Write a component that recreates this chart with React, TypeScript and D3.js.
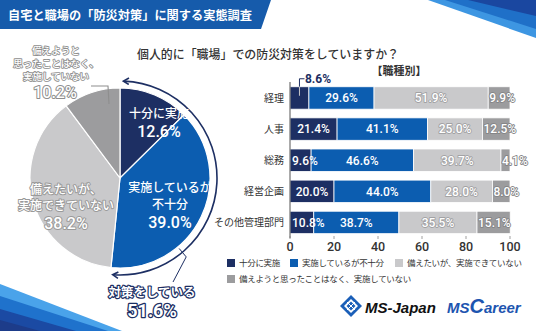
import React from 'react';
import * as d3 from 'd3';

const W = 536;
const H = 331;

const titleText = '自宅と職場の「防災対策」に関する実態調査';
const questionText = '個人的に「職場」での防災対策をしていますか？';
const subTitle = '【職種別】';

const legendLabels = ['十分に実施', '実施しているが不十分', '備えたいが、実施できていない', '備えようと思ったことはなく、実施していない'];
const pieValues = [12.6, 39.0, 38.2, 10.2];
const pieLabelLines = [
  ['十分に実施'],
  ['実施しているが', '不十分'],
  ['備えたいが、', '実施できていない'],
  ['備えようと', '思ったことはなく、', '実施していない'],
];
const totalDoing = 51.6;
const totalDoingLabel = '対策をしている';

const categories = ['経理', '人事', '総務', '経営企画', 'その他管理部門'];
const s1 = [8.6, 21.4, 9.6, 20.0, 10.8];
const s2 = [29.6, 41.1, 46.6, 44.0, 38.7];
const s3 = [51.9, 25.0, 39.7, 28.0, 35.5];
const s4 = [9.9, 12.5, 4.1, 8.0, 15.1];
const xTicks = [0, 20, 40, 60, 80, 100];

const COLORS = ['#1d2f63', '#0c5db0', '#c9c9cb', '#9c9c9e'];
const NAVY = '#1d2f63';
const JP = '"Noto Sans CJK JP", "Noto Sans", sans-serif';
const NUM = 'Roboto, "Noto Sans", sans-serif';

export default function App() {
  // ---------- pie ----------
  const cx = 120, cy = 178, R = 90;
  const pie = d3.pie<number>().sort(null).value((d) => d)(pieValues);
  const arc = d3.arc<d3.PieArcDatum<number>>().innerRadius(0).outerRadius(R);

  const arrowR = 97;
  const a0 = -Math.PI / 2 + 0.04;
  const a1 = -Math.PI / 2 + (totalDoing / 100) * 2 * Math.PI - 0.03;
  const ap = d3.path();
  ap.arc(cx, cy, arrowR, a0, a1, false);

  const polar = (deg: number, r: number): [number, number] => {
    const t = (deg * Math.PI) / 180;
    return [cx + r * Math.sin(t), cy - r * Math.cos(t)];
  };
  const lp1 = polar(140, arrowR - 5);
  const lp2 = polar(140, arrowR + 6);
  const leader = d3.line()([lp1, lp2, [173, 282]]);

  // ---------- bars ----------
  const x = d3.scaleLinear().domain([0, 100]).range([290, 510]);
  const y = d3.scaleBand<string>().domain(categories).range([82.4, 238]).paddingInner(0.28).paddingOuter(0.14);
  const rows = categories.map((c, i) => ({ cat: c, a: s1[i], b: s2[i], c3: s3[i], d: s4[i] }));
  const keys = ['a', 'b', 'c3', 'd'];
  const stacked = d3.stack<any>().keys(keys)(rows);

  const legendPos: [number, number][] = [[227, 263], [290, 263], [395, 263], [227, 279]];

  const outlined = (stroke: string, sw = 2) => ({
    fill: '#fff', stroke, strokeWidth: sw, paintOrder: 'stroke' as any, strokeLinejoin: 'round' as any,
  });

  return (
    <div style={{ position: 'fixed', left: 0, top: 0, width: W, height: H, background: '#fff' }}>
      <svg width={W} height={H} viewBox={`0 0 ${W} ${H}`} style={{ display: 'block' }}>
        <defs>
          <marker id="arrh" viewBox="0 0 8 8" refX="6" refY="4" markerWidth="8" markerHeight="8"
            markerUnits="userSpaceOnUse" orient="auto-start-reverse">
            <path d="M1,0.8 L6.5,4 L1,7.2" fill="none" stroke={NAVY} strokeWidth={1.6} />
          </marker>
        </defs>
        <rect width={W} height={H} fill="#fff" />

        {/* top-right decoration */}
        <polygon points="428,0 536,0 536,38" fill="#3d96e2" />
        <polygon points="445,0 536,0 536,29" fill="#1f70c8" />
        <polygon points="468,0 536,0 536,16" fill="#1a47a0" />

        {/* bottom-left decoration */}
        <polygon points="0,284 122,331 0,331" fill="#4aa3ea" />
        <polygon points="0,296 108,331 0,331" fill="#1f72cc" />
        <polygon points="0,309 76,331 0,331" fill="#1b4aa3" />
        <polygon points="0,320 40,331 0,331" fill="#1d3c8a" />

        {/* title banner */}
        <path d="M0,0 L271,0 L261,29 L0,29 Z" fill="#165bab" />
        <text x={8} y={19.5} fill="#fff" fontFamily={JP} fontWeight={700} fontSize={12.5}
          textLength={244} lengthAdjust="spacingAndGlyphs">{titleText}</text>

        {/* pie */}
        <g transform={`translate(${cx},${cy})`}>
          {pie.map((d, i) => (
            <path key={i} d={arc(d) || ''} fill={COLORS[i]} stroke="#fff" strokeWidth={1.2} />
          ))}
        </g>
        {/* arrow arc */}
        <path d={ap.toString()} fill="none" stroke={NAVY} strokeWidth={1.6}
          markerStart="url(#arrh)" markerEnd="url(#arrh)" />
        <path d={leader || ''} fill="none" stroke={NAVY} strokeWidth={1} />

        {/* pie labels */}
        <g fontFamily={JP} textAnchor="middle">
          <text x={159} y={118} fill="#fff" fontSize={12} fontWeight={500}>{pieLabelLines[0][0]}</text>
          <text x={159} y={137} fill="#fff" fontSize={16} fontWeight={500} fontFamily={NUM}>{pieValues[0].toFixed(1)}%</text>

          <text x={170} y={192} fill="#fff" fontSize={12} fontWeight={500}>{pieLabelLines[1][0]}</text>
          <text x={170} y={208.5} fill="#fff" fontSize={12} fontWeight={500}>{pieLabelLines[1][1]}</text>
          <text x={170} y={227.5} fill="#fff" fontSize={16} fontWeight={500} fontFamily={NUM}>{pieValues[1].toFixed(1)}%</text>

          <text x={66} y={194} fontSize={12} fontWeight={500} {...outlined('#9a9a9a', 2)}>{pieLabelLines[2][0]}</text>
          <text x={66} y={210} fontSize={12} fontWeight={500} {...outlined('#9a9a9a', 2)}>{pieLabelLines[2][1]}</text>
          <text x={66} y={229} fontSize={16} fontWeight={500} fontFamily={NUM} {...outlined('#9a9a9a', 2)}>{pieValues[2].toFixed(1)}%</text>

          <text x={56} y={54} fontSize={9.5} fontWeight={500} {...outlined('#8e8e8e', 1.7)}>{pieLabelLines[3][0]}</text>
          <text x={56} y={67} fontSize={9.5} fontWeight={500} {...outlined('#8e8e8e', 1.7)}>{pieLabelLines[3][1]}</text>
          <text x={56} y={80} fontSize={9.5} fontWeight={500} {...outlined('#8e8e8e', 1.7)}>{pieLabelLines[3][2]}</text>
          <text x={55} y={97.5} fontSize={16} fontWeight={500} fontFamily={NUM} {...outlined('#8e8e8e', 2)}>{pieValues[3].toFixed(1)}%</text>

          <text x={152} y={297} fontSize={12.5} fontWeight={700} {...outlined(NAVY, 2.4)}>{totalDoingLabel}</text>
          <text x={152} y={317} fontSize={18} fontWeight={700} fontFamily={NUM} {...outlined(NAVY, 2.6)}>{totalDoing.toFixed(1)}%</text>
        </g>
        {/* leader for 10.2% */}
        <path d="M91,86 L108,86 L109,104" fill="none" stroke="#8e8e8e" strokeWidth={1.1} />

        {/* bar chart title */}
        <text x={137} y={59} fill="#333" fontFamily={JP} fontSize={12.5} fontWeight={500}
          textLength={262} lengthAdjust="spacingAndGlyphs">{questionText}</text>
        <text x={399} y={75} fill="#333" fontFamily={JP} fontSize={11} fontWeight={700} textAnchor="middle">{subTitle}</text>

        {/* bars */}
        {stacked.map((layer, li) => (
          <g key={li}>
            {layer.map((d, i) => {
              const cat = categories[i];
              const x0 = x(d[0]);
              const x1 = x(d[1]);
              const yy = y(cat)!;
              return (
                <rect key={i} x={x0} y={yy} width={Math.max(0, x1 - x0)} height={y.bandwidth()}
                  fill={COLORS[li]} stroke="#fff" strokeWidth={0.8} />
              );
            })}
          </g>
        ))}
        {/* bar labels */}
        <g fontFamily={NUM} fontSize={12} fontWeight={500}>
          {stacked.map((layer, li) =>
            layer.map((d, i) => {
              const cat = categories[i];
              const v = d[1] - d[0];
              const x0 = x(d[0]);
              const x1 = x(d[1]);
              const yc = y(cat)! + y.bandwidth() / 2 + 4.3;
              const label = `${v.toFixed(1)}%`;
              if (li === 0) {
                if (v < 9) {
                  return (
                    <text key={`${li}-${i}`} x={x1 - 4} y={y(cat)! - 4} fill={NAVY} fontWeight={700}>{label}</text>
                  );
                }
                const narrow = x1 - x0 < 40;
                return (
                  <text key={`${li}-${i}`} x={narrow ? x0 + 2 : (x0 + x1) / 2} y={yc}
                    textAnchor={narrow ? 'start' : 'middle'} fill="#fff">{label}</text>
                );
              }
              if (li === 1) {
                return <text key={`${li}-${i}`} x={(x0 + x1) / 2} y={yc} textAnchor="middle" fill="#fff">{label}</text>;
              }
              if (li === 2) {
                return <text key={`${li}-${i}`} x={(x0 + x1) / 2} y={yc} textAnchor="middle" {...outlined('#a2a2a4', 1.8)}>{label}</text>;
              }
              return <text key={`${li}-${i}`} x={x0 + 1} y={yc} textAnchor="start" {...outlined('#858587', 1.8)}>{label}</text>;
            })
          )}
        </g>
        {/* leader for small label */}
        {stacked[0].map((d, i) => {
          const v = d[1] - d[0];
          if (v >= 9) return null;
          const yy = y(categories[i])!;
          const xm = x(d[0] + v / 2);
          return (
            <g key={i}>
              <path d={`M${xm + 5},${yy - 8} L${xm},${yy - 8} L${xm},${yy}`} fill="none" stroke={NAVY} strokeWidth={1} />
              <path d={`M${xm},${yy} L${xm},${yy + 9}`} fill="none" stroke="#c9c9cb" strokeWidth={1} />
            </g>
          );
        })}

        {/* axes */}
        <line x1={x(0)} x2={x(0)} y1={82} y2={238} stroke="#555" strokeWidth={1} />
        {xTicks.map((t) => (
          <g key={t}>
            <line x1={x(t)} x2={x(t)} y1={236} y2={239} stroke="#888" strokeWidth={0.8} />
            <text x={x(t)} y={251} textAnchor="middle" fill="#333" fontFamily={NUM} fontSize={12.5} fontWeight={500}>{t}</text>
          </g>
        ))}
        {/* category labels */}
        {categories.map((c) => (
          <text key={c} x={284} y={y(c)! + y.bandwidth() / 2 + 4} textAnchor="end" fill="#333"
            fontFamily={JP} fontSize={10}>{c}</text>
        ))}

        {/* legend */}
        {legendLabels.map((l, i) => (
          <g key={l}>
            <rect x={legendPos[i][0]} y={legendPos[i][1] - 4} width={8} height={8} fill={COLORS[i]} />
            <text x={legendPos[i][0] + 12} y={legendPos[i][1] + 3.3} fill="#333" fontFamily={JP} fontSize={8.5}
              letterSpacing={-0.3}>{l}</text>
          </g>
        ))}

        {/* logos */}
        <g>
          <polygon points="351,295 362,306 351,317 340,306" fill="#1b5fb8" />
          <polygon points="351,299 358,306 351,313 344,306" fill="#fff" />
          <polygon points="351,301.5 355.5,306 351,310.5 346.5,306" fill="#1b5fb8" />
          <line x1={347} y1={302} x2={355} y2={310} stroke="#fff" strokeWidth={1} />
          <line x1={355} y1={302} x2={347} y2={310} stroke="#fff" strokeWidth={1} />
          <text x={365} y={313} fill="#111" fontFamily='"Liberation Sans", Arial, sans-serif'
            fontWeight={700} fontStyle="italic" fontSize={15}>MS-Japan</text>
          <text x={447} y={313} fill="#1d55b0" fontFamily='"Liberation Sans", Arial, sans-serif'
            fontWeight={700} fontStyle="italic" fontSize={15}>
            MS<tspan fontSize={20}>C</tspan>areer
          </text>
        </g>
      </svg>
    </div>
  );
}
